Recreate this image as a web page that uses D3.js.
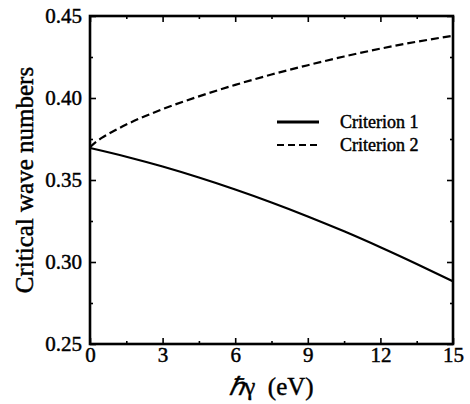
<!DOCTYPE html>
<html>
<head>
<meta charset="utf-8">
<script src="https://cdn.jsdelivr.net/npm/d3@7"></script>
<style>
  body { margin: 0; background: #fff; }
  svg text { font-family: "Liberation Serif", "Times New Roman", serif; stroke: #000; stroke-width: 0.45px; }
</style>
</head>
<body>
<svg id="chart" width="470" height="404"></svg>
<script>
// values
const energy1 = [0, 1.5, 3, 4.5, 6, 7.5, 9, 10.5, 12, 13.5, 15];
const criterion1 = [0.3695, 0.3642, 0.3582, 0.3515, 0.3442, 0.3363, 0.3278, 0.3187, 0.3090, 0.2988, 0.2882];
const energy2 = [0, 0.25, 0.5, 1, 1.5, 2, 3, 4.5, 6, 7.5, 9, 10.5, 12, 13.5, 15];
const criterion2 = [0.370, 0.3732, 0.3758, 0.3800, 0.3838, 0.3872, 0.3932, 0.4010, 0.4080, 0.4143, 0.4200, 0.4253, 0.4301, 0.4343, 0.4380];
const xTicks = [0, 3, 6, 9, 12, 15];
const xMinor = [1.5, 4.5, 7.5, 10.5, 13.5];
const yTicks = [0.25, 0.30, 0.35, 0.40, 0.45];
const yMinor = [0.275, 0.325, 0.375, 0.425];
const legendLabels = ["Criterion 1", "Criterion 2"];

const svg = d3.select("#chart");
const margin = {top: 16, right: 17, bottom: 60, left: 90};
const width = 470, height = 404;

const x = d3.scaleLinear([0, 15], [margin.left, width - margin.right]);
const y = d3.scaleLinear([0.25, 0.45], [height - margin.bottom, margin.top]);

function ticks(g) {
	g.attr("font-family", null).attr("font-size", 21);
	g.select(".domain").remove();
	g.selectAll("line").attr("stroke", "#000").attr("stroke-width", 1.6);
	g.selectAll("text").attr("fill", "#000");
}

// bottom
svg.append("g")
	.attr("transform", `translate(0,${y(0.25)})`)
	.call(d3.axisBottom(x).tickValues(xTicks).tickSize(-6).tickPadding(3).tickFormat(d3.format("d")))
	.call(ticks);
svg.append("g")
	.attr("transform", `translate(0,${y(0.25)})`)
	.call(d3.axisBottom(x).tickValues(xMinor).tickSize(-3).tickFormat(""))
	.call(ticks);
// top
svg.append("g")
	.attr("transform", `translate(0,${y(0.45)})`)
	.call(d3.axisTop(x).tickValues(xTicks).tickSize(-6).tickFormat(""))
	.call(ticks);
svg.append("g")
	.attr("transform", `translate(0,${y(0.45)})`)
	.call(d3.axisTop(x).tickValues(xMinor).tickSize(-3).tickFormat(""))
	.call(ticks);
// left
svg.append("g")
	.attr("transform", `translate(${x(0)},0)`)
	.call(d3.axisLeft(y).tickValues(yTicks).tickSize(-6).tickPadding(8).tickFormat(d3.format(".2f")))
	.call(ticks);
svg.append("g")
	.attr("transform", `translate(${x(0)},0)`)
	.call(d3.axisLeft(y).tickValues(yMinor).tickSize(-3).tickFormat(""))
	.call(ticks);
// right
svg.append("g")
	.attr("transform", `translate(${x(15)},0)`)
	.call(d3.axisRight(y).tickValues(yTicks).tickSize(-6).tickFormat(""))
	.call(ticks);
svg.append("g")
	.attr("transform", `translate(${x(15)},0)`)
	.call(d3.axisRight(y).tickValues(yMinor).tickSize(-3).tickFormat(""))
	.call(ticks);

// frame
svg.append("rect")
	.attr("x", x(0)).attr("y", y(0.45))
	.attr("width", x(15) - x(0)).attr("height", y(0.25) - y(0.45))
	.attr("fill", "none").attr("stroke", "#000").attr("stroke-width", 2.6);

const line = d3.line()
	.x(d => x(d[0]))
	.y(d => y(d[1]))
	.curve(d3.curveMonotoneX);

svg.append("path")
	.attr("d", line(d3.zip(energy1, criterion1)))
	.attr("fill", "none").attr("stroke", "#000").attr("stroke-width", 2.2);
svg.append("path")
	.attr("d", line(d3.zip(energy2, criterion2)))
	.attr("fill", "none").attr("stroke", "#000").attr("stroke-width", 2.2)
	.attr("stroke-dasharray", "8,4");

// legend
const legend = svg.append("g").attr("transform", "translate(277,122)");
legend.selectAll("line")
	.data(legendLabels)
	.join("line")
	.attr("x1", 0).attr("x2", 42)
	.attr("y1", (d, i) => i * 23).attr("y2", (d, i) => i * 23)
	.attr("stroke", "#000").attr("stroke-width", (d, i) => i ? 2 : 2.8)
	.attr("stroke-dasharray", (d, i) => i ? "7,4" : null);
legend.selectAll("text")
	.data(legendLabels)
	.join("text")
	.attr("x", 63).attr("y", (d, i) => i * 23 + 6)
	.attr("font-size", 18)
	.text(d => d);

// axis titles
svg.append("text")
	.attr("transform", `translate(33,${(y(0.25) + y(0.45)) / 2}) rotate(-90)`)
	.attr("text-anchor", "middle")
	.attr("font-size", 25)
	.text("Critical wave numbers");
const xt = svg.append("text")
	.attr("x", (x(0) + x(15)) / 2)
	.attr("y", 395)
	.attr("text-anchor", "middle")
	.attr("font-size", 25);
xt.append("tspan").attr("font-style", "italic").text("\u210F");
xt.append("tspan").text("\u03B3\u00A0 (eV)");
</script>
</body>
</html>
